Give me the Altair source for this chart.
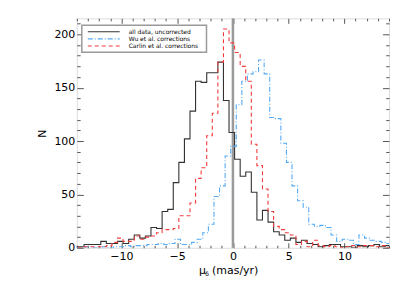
import altair as alt
import pandas as pd

series_names = ["all data, uncorrected", "Wu et al. corrections", "Carlin et al. corrections"]
colors = ["#333333", "#55aaf5", "#f23c3c"]
dashes = [[1, 0], [5, 2, 1, 2], [4, 3]]

bin_width = 0.5
starts = [-14.35, -14.2, -14.35]

uncorrected = [1, 1, 3, 3, 3, 6, 4, 4, 6, 4,
               8, 12, 9, 11, 19, 18, 34, 36, 61, 80,
               102, 128, 156, 155, 164, 164, 174, 138, 108, 83,
               67, 71, 52, 26, 35, 24, 15, 12, 7, 9,
               5, 7, 4, 3, 1, 2, 3, 3, 1, 1,
               0, 2, 1, 2, 3, 1, 2]
wu = [0, 0, 1, 0, 0, 1, 0, 1, 1, 2,
      1, 2, 2, 3, 3, 4, 3, 4, 8, 3,
      3, 5, 8, 14, 22, 48, 58, 86, 95, 134,
      156, 163, 165, 176, 163, 122, 121, 98, 80, 58,
      44, 38, 22, 20, 21, 19, 12, 6, 8, 7,
      3, 12, 9, 7, 6, 5, 4]
carlin = [2, 0, 1, 1, 1, 1, 2, 5, 9, 6,
          6, 11, 8, 10, 11, 14, 17, 17, 18, 30,
          30, 42, 65, 75, 105, 126, 174, 205, 192, 183,
          170, 156, 97, 77, 55, 34, 20, 17, 14, 12,
          3, 6, 1, 7, 2, 1, 2, 1, 0, 1,
          2, 1, 2, 2, 1, 2, 0]

x_ticks = list(range(-14, 15))
y_ticks = list(range(0, 220, 10))
x_domain = [-14, 14]
y_domain = [0, 215]

rows = []
for name, start, vals in zip(series_names, starts, [uncorrected, wu, carlin]):
    for i, v in enumerate(vals + [vals[-1]]):
        rows.append({"series": name, "x": start + i * bin_width, "y": v, "i": i})
df = pd.DataFrame(rows)

FONT = "DejaVu Sans"


def x_axis(orient, labels):
    return alt.Axis(
        orient=orient, values=x_ticks, offset=-5, tickSize=5, domain=False, grid=False,
        labels=labels, labelExpr="datum.value % 5 == 0 ? datum.label : ''",
        labelPadding=3, labelOverlap=False, labelFontSize=11, labelColor="black", labelFont=FONT,
        tickColor="#555555", tickWidth=1,
        tickDash={"condition": {"test": "datum.value % 5 != 0", "value": [0, 2.5, 2.5]}, "value": []},
        title=None,
    )


def y_axis(orient, labels):
    return alt.Axis(
        orient=orient, values=y_ticks, offset=-6.5, tickSize=6.5, domain=False, grid=False,
        labels=labels, labelExpr="datum.value % 50 == 0 ? datum.label : ''",
        labelPadding=2, labelOverlap=False, labelFontSize=11, labelColor="black", labelFont=FONT,
        tickColor="#555555", tickWidth=1,
        tickDash={"condition": {"test": "datum.value % 50 != 0", "value": [0, 3.2, 3.3]}, "value": []},
        title="N" if labels else None, titleFontSize=11, titleFont=FONT, titleFontWeight="normal",
        titlePadding=6, titleColor="black",
    )


color_scale = alt.Scale(domain=series_names, range=colors)
dash_scale = alt.Scale(domain=series_names, range=dashes)

zero_df = pd.DataFrame({"x": [0]})
zero_rule = alt.Chart(zero_df).mark_rule(color="#9a9a9a", strokeWidth=2.5).encode(
    x=alt.X("x:Q", scale=alt.Scale(domain=x_domain, nice=False, zero=False), axis=x_axis("bottom", True))
)

line_layers = []
for name in series_names:
    line_layers.append(
        alt.Chart(df).transform_filter(alt.datum.series == name).mark_line(
            interpolate="step-after", clip=True, strokeWidth=1.1
        ).encode(
            x=alt.X("x:Q", scale=alt.Scale(domain=x_domain, nice=False, zero=False), axis=x_axis("bottom", True)),
            y=alt.Y("y:Q", scale=alt.Scale(domain=y_domain, nice=False, zero=False), axis=y_axis("left", True)),
            color=alt.Color("series:N", scale=color_scale, legend=None),
            strokeDash=alt.StrokeDash("series:N", scale=dash_scale, legend=None),
            order="i:Q",
        )
    )

data_layer = alt.layer(zero_rule, *line_layers)

mirror = alt.Chart(df).mark_line(opacity=0).encode(
    x=alt.X("x:Q", scale=alt.Scale(domain=x_domain, nice=False, zero=False), axis=x_axis("top", False)),
    y=alt.Y("y:Q", scale=alt.Scale(domain=y_domain, nice=False, zero=False), axis=y_axis("right", False)),
)

# legend
leg_df = pd.DataFrame({"series": series_names, "row": [0, 1, 2]})
box_df = pd.DataFrame({"k": [0]})
legend_box = alt.Chart(box_df).mark_rect(fill="white", stroke="#9a9a9a", strokeWidth=1.5).encode(
    x=alt.value(5), x2=alt.value(130), y=alt.value(7), y2=alt.value(34)
)
leg_y = alt.Y("row:Q", scale=alt.Scale(domain=[0, 2], range=[13.5, 27.7]), axis=None)
legend_lines = alt.Chart(leg_df).mark_rule(strokeWidth=1.1).encode(
    x=alt.value(11), x2=alt.value(43), y=leg_y,
    color=alt.Color("series:N", scale=color_scale, legend=None),
    strokeDash=alt.StrokeDash("series:N", scale=dash_scale, legend=None),
)
legend_text = alt.Chart(leg_df).mark_text(
    align="left", baseline="middle", font=FONT, fontSize=6, color="black"
).encode(x=alt.value(52), y=leg_y, text="series:N")
legend_layer = alt.layer(legend_box, legend_lines, legend_text)

# x title with subscript
title_parts = pd.DataFrame({"k": [0]})
t_mu = alt.Chart(title_parts).mark_text(align="left", baseline="alphabetic", font=FONT, fontSize=11, color="black",
                                        text="μ").encode(x=alt.value(122.5), y=alt.value(256))
t_delta = alt.Chart(title_parts).mark_text(align="left", baseline="alphabetic", font=FONT, fontSize=6, color="black",
                                           text="δ").encode(x=alt.value(128.7), y=alt.value(258))
t_rest = alt.Chart(title_parts).mark_text(align="left", baseline="alphabetic", font=FONT, fontSize=11, color="black",
                                          text="(mas/yr)").encode(x=alt.value(135.5), y=alt.value(256))
title_layer = alt.layer(t_mu, t_delta, t_rest)

chart = alt.layer(data_layer, mirror, legend_layer, title_layer).resolve_scale(
    x="independent", y="independent"
).properties(
    width=313, height=230,
    padding={"left": 69, "top": 10, "right": 10, "bottom": 47},
    autosize=alt.AutoSizeParams(type="none"),
).configure_view(stroke="#808080", strokeWidth=2).configure(background="white")

chart.save("out.html", embed_options={"renderer": "svg", "actions": False})
